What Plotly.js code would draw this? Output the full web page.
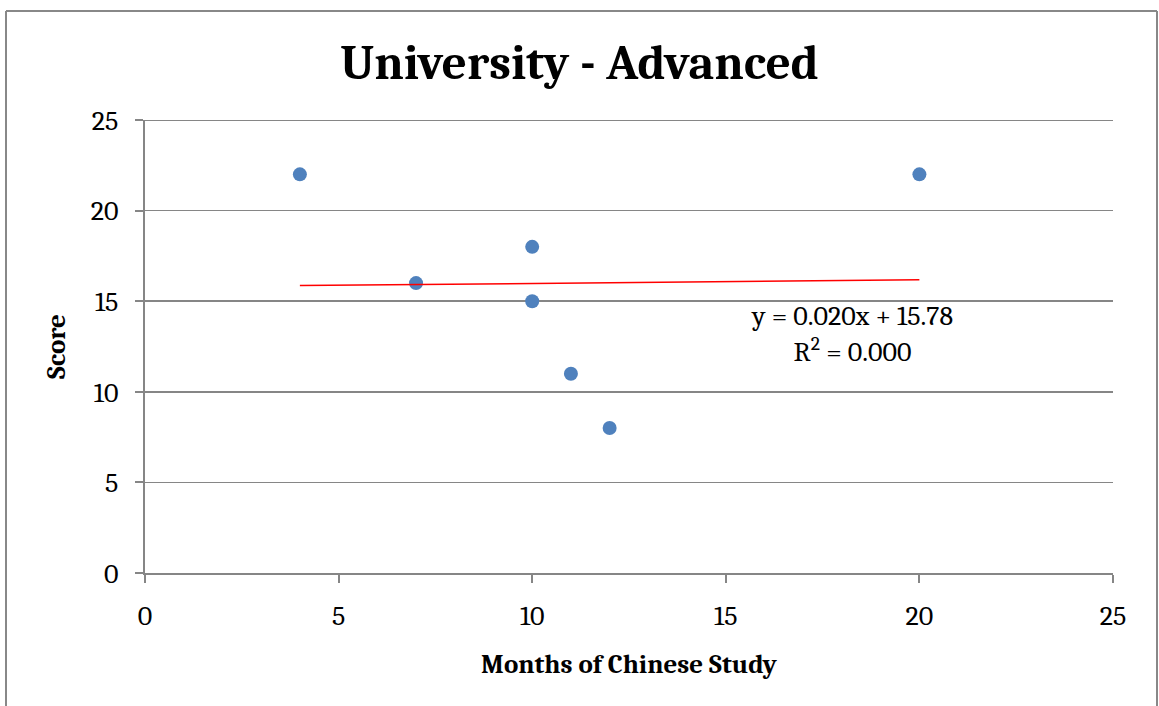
<!DOCTYPE html>
<html><head><meta charset="utf-8">
<script src="https://cdn.plot.ly/plotly-3.0.1.min.js"></script>
<style>html,body{margin:0;padding:0;background:#fff;}#chart{width:1159px;height:706px;}</style>
</head><body><div id="chart"></div>
<script>
const months = [4, 7, 10, 10, 11, 12, 20];
const scores = [22, 16, 18, 15, 11, 8, 22];
const trendSlope = 0.020;
const trendIntercept = 15.78;
const trendX = [4, 20];
const trendY = trendX.map(x => trendSlope * x + trendIntercept);
const tickVals = [0, 5, 10, 15, 20, 25];
const titleText = 'University - Advanced';
const xTitle = 'Months of Chinese Study';
const yTitle = 'Score';
const eqText = 'y = 0.020x + 15.78<br>R<sup>2</sup> = 0.000';

const FONT = 'Cambria, "Liberation Serif", "DejaVu Serif", serif';
const L = 145, R = 46, T = 120, B = 133, W = 1159, H = 706;
const pw = W - L - R, ph = H - T - B;
const px = v => (v - L) / pw;
const py = v => (H - B - v) / ph;

const data = [
  {x: months, y: scores, type: 'scatter', mode: 'markers',
   marker: {color: '#4f81bd', size: 14}, hoverinfo: 'skip'},
  {x: trendX, y: trendY, type: 'scatter', mode: 'lines',
   line: {color: '#ff0000', width: 1.5}, hoverinfo: 'skip'}
];
const layout = {
  width: W, height: H, showlegend: false,
  margin: {l: L, r: R, t: T, b: B, pad: 0},
  paper_bgcolor: '#fff', plot_bgcolor: '#fff',
  font: {family: FONT, color: '#000', size: 28},
  title: {text: '<b>' + titleText + '</b>', x: 0.5, xanchor: 'center', y: 1 - 62 / H, yanchor: 'middle',
          font: {family: FONT, size: 49, color: '#000'}},
  xaxis: {range: [0, 25], tickvals: tickVals, ticks: 'outside', ticklen: 8, tickwidth: 2, tickcolor: '#868686',
          showline: true, linecolor: '#868686', linewidth: 2, showgrid: false, zeroline: false,
          ticklabelstandoff: 8, tickfont: {family: FONT, size: 28},
          title: {text: '<b>' + xTitle + '</b>', font: {family: FONT, size: 27}, standoff: 24}},
  yaxis: {range: [0, 25], tickvals: tickVals, ticks: 'outside', ticklen: 8, tickwidth: 2, tickcolor: '#868686',
          showline: true, linecolor: '#868686', linewidth: 2, showgrid: true, gridcolor: '#868686', gridwidth: 1.5,
          zeroline: false, ticklabelstandoff: 11, tickfont: {family: FONT, size: 28},
          title: {text: '<b>' + yTitle + '</b>', font: {family: FONT, size: 27}, standoff: 17}},
  annotations: [{xref: 'x', yref: 'y', x: 18.26, y: 13.2, text: eqText, showarrow: false,
                 align: 'center', xanchor: 'center', yanchor: 'middle', font: {family: FONT, size: 28}}],
  shapes: [
    {type: 'line', xref: 'paper', yref: 'paper', x0: px(6), x1: px(6), y0: py(11), y1: py(720), line: {color: '#888', width: 2}},
    {type: 'line', xref: 'paper', yref: 'paper', x0: px(6), x1: px(1157), y0: py(11), y1: py(11), line: {color: '#888', width: 2}},
    {type: 'line', xref: 'paper', yref: 'paper', x0: px(1157), x1: px(1157), y0: py(11), y1: py(720), line: {color: '#888', width: 2}},
    {type: 'line', xref: 'paper', yref: 'y', x0: px(137), x1: 1, y0: 25, y1: 25, line: {color: '#868686', width: 2}}
  ]
};
Plotly.newPlot('chart', data, layout, {staticPlot: true, displayModeBar: false});
</script></body></html>
